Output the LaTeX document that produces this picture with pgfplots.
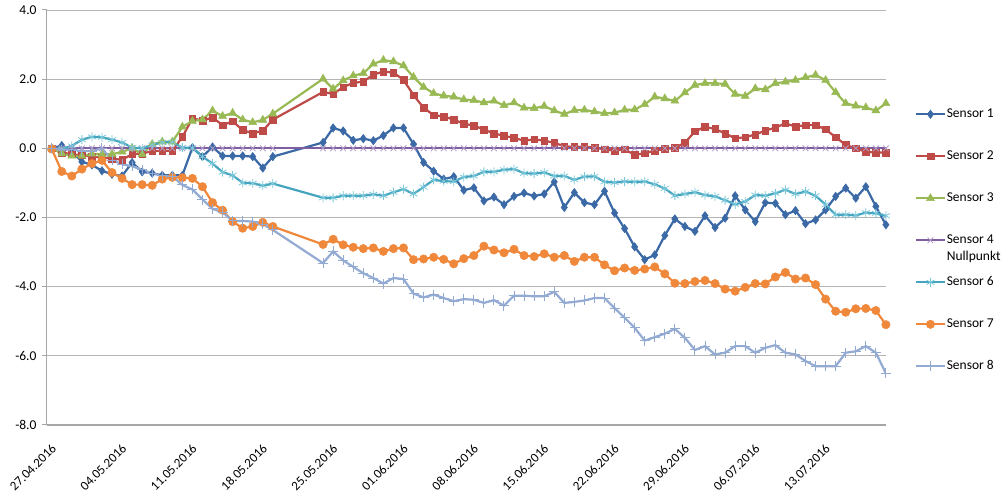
\documentclass[border=0pt]{standalone}
\usepackage{pgfplots}
\pgfplotsset{compat=1.18}
\usepackage{pgfplotstable}
\usepackage{fontspec}
\setmainfont{Carlito}
\definecolor{cSa}{HTML}{3B69A6}
\definecolor{cSb}{HTML}{BE4B48}
\definecolor{cSc}{HTML}{98B954}
\definecolor{cSd}{HTML}{7E5EA0}
\definecolor{cSdm}{HTML}{B09CC8}
\definecolor{cSf}{HTML}{45A5BE}
\definecolor{cSfm}{HTML}{7BC8DA}
\definecolor{cSg}{HTML}{F0883C}
\definecolor{cSh}{HTML}{93ABD3}
\definecolor{axisgray}{HTML}{A6A6A6}
\definecolor{gridgray}{HTML}{B4B4B4}

\pgfplotstableread{
i s1 s2 s3 s4 s6 s7 s8
0 0 0 0 0 0 -0.02 0
1 0.08 -0.12 -0.15 0 -0.02 -0.67 -0.04
2 -0.10 -0.17 -0.22 0 0.07 -0.80 -0.04
3 -0.39 -0.20 -0.22 0 0.25 -0.60 -0.08
4 -0.48 -0.24 -0.16 0 0.33 -0.44 -0.08
5 -0.65 -0.26 -0.17 0 0.32 -0.35 0.00
6 -0.75 -0.30 -0.17 0 0.25 -0.70 -0.34
7 -0.80 -0.33 -0.10 0 0.17 -0.87 -0.46
8 -0.41 -0.17 0.00 0 0.02 -1.05 -0.52
9 -0.68 -0.15 -0.17 0 0.00 -1.05 -0.62
10 -0.72 -0.08 0.12 0 0.10 -1.07 -0.72
11 -0.78 -0.07 0.19 0 0.17 -0.89 -0.80
12 -0.78 -0.07 0.19 0 0.18 -0.84 -0.81
13 -0.78 0.33 0.62 0 0.02 -0.85 -1.06
14 0.02 0.87 0.79 0 0.01 -0.87 -1.19
15 -0.24 0.80 0.83 0 -0.24 -1.11 -1.48
16 0.04 0.89 1.09 0 -0.44 -1.57 -1.75
17 -0.22 0.67 0.93 0 -0.69 -1.79 -1.85
18 -0.22 0.78 1.02 0 -0.78 -2.12 -2.10
19 -0.22 0.53 0.83 0 -1.00 -2.31 -2.10
20 -0.24 0.43 0.75 0 -1.01 -2.26 -2.12
21 -0.57 0.51 0.82 0 -1.08 -2.14 -2.19
22 -0.24 0.83 1.00 0 -1.02 -2.26 -2.36
27 0.17 1.63 2.01 0 -1.43 -2.78 -3.32
28 0.59 1.57 1.72 0 -1.43 -2.63 -2.98
29 0.50 1.77 1.96 0 -1.37 -2.79 -3.24
30 0.23 1.89 2.10 0 -1.37 -2.86 -3.43
31 0.28 1.93 2.17 0 -1.37 -2.90 -3.61
32 0.22 2.13 2.44 0 -1.33 -2.88 -3.75
33 0.37 2.22 2.55 0 -1.37 -2.98 -3.91
34 0.59 2.19 2.51 0 -1.27 -2.90 -3.75
35 0.59 1.98 2.39 0 -1.18 -2.88 -3.78
36 0.12 1.54 2.06 0 -1.32 -3.22 -4.20
37 -0.41 1.17 1.77 0 -1.12 -3.20 -4.31
38 -0.66 0.96 1.59 0 -0.91 -3.15 -4.23
39 -0.89 0.92 1.52 0 -0.95 -3.21 -4.33
40 -0.82 0.83 1.49 0 -0.96 -3.34 -4.42
41 -1.21 0.71 1.41 0 -0.83 -3.19 -4.36
42 -1.14 0.66 1.39 0 -0.80 -3.10 -4.38
43 -1.52 0.54 1.32 0 -0.68 -2.83 -4.47
44 -1.41 0.43 1.37 0 -0.68 -2.94 -4.39
45 -1.63 0.36 1.24 0 -0.62 -3.02 -4.55
46 -1.39 0.30 1.32 0 -0.60 -2.92 -4.26
47 -1.29 0.22 1.17 0 -0.72 -3.10 -4.26
48 -1.38 0.26 1.16 0 -0.73 -3.13 -4.28
49 -1.32 0.22 1.22 0 -0.70 -3.05 -4.28
50 -0.97 0.16 1.09 0 -0.80 -3.15 -4.15
51 -1.71 0.06 0.99 0 -0.80 -3.10 -4.47
52 -1.28 0.04 1.10 0 -0.91 -3.27 -4.44
53 -1.57 0.05 1.11 0 -0.82 -3.15 -4.40
54 -1.63 0.02 1.06 0 -0.81 -3.15 -4.33
55 -1.24 -0.03 1.01 0 -0.97 -3.37 -4.33
56 -1.87 -0.07 1.03 0 -0.99 -3.54 -4.62
57 -2.32 -0.03 1.11 0 -0.96 -3.46 -4.90
58 -2.85 -0.19 1.12 0 -0.97 -3.53 -5.19
59 -3.22 -0.14 1.27 0 -0.96 -3.49 -5.56
60 -3.08 -0.07 1.49 0 -1.04 -3.43 -5.46
61 -2.52 -0.02 1.44 0 -1.16 -3.63 -5.36
62 -2.04 0.01 1.37 0 -1.37 -3.90 -5.22
63 -2.26 0.16 1.61 0 -1.32 -3.91 -5.48
64 -2.40 0.49 1.83 0 -1.27 -3.85 -5.83
65 -1.95 0.62 1.88 0 -1.35 -3.82 -5.72
66 -2.29 0.56 1.88 0 -1.39 -3.91 -5.96
67 -2.02 0.43 1.86 0 -1.50 -4.07 -5.91
68 -1.37 0.29 1.57 0 -1.62 -4.13 -5.72
69 -1.78 0.32 1.51 0 -1.54 -4.02 -5.72
70 -2.12 0.40 1.73 0 -1.35 -3.91 -5.91
71 -1.57 0.51 1.70 0 -1.37 -3.92 -5.77
72 -1.59 0.60 1.88 0 -1.30 -3.72 -5.69
73 -1.92 0.72 1.92 0 -1.20 -3.59 -5.91
74 -1.80 0.63 1.97 0 -1.32 -3.78 -5.96
75 -2.18 0.67 2.05 0 -1.25 -3.75 -6.15
76 -2.07 0.67 2.12 0 -1.37 -3.94 -6.30
77 -1.78 0.55 1.97 0 -1.63 -4.36 -6.30
78 -1.39 0.32 1.62 0 -1.92 -4.71 -6.30
79 -1.15 0.10 1.30 0 -1.92 -4.74 -5.91
80 -1.44 0.00 1.23 0 -1.94 -4.64 -5.87
81 -1.11 -0.10 1.18 0 -1.86 -4.63 -5.72
82 -1.68 -0.12 1.09 0 -1.88 -4.69 -5.91
83 -2.21 -0.12 1.30 0 -1.95 -5.10 -6.51
}\sensordata

\begin{document}
\begin{tikzpicture}[x=1pt,y=1pt]
\useasboundingbox (0,0) rectangle (1007,500);
\begin{axis}[
  at={(46.7pt,75pt)}, anchor=south west,
  scale only axis, width=839.2pt, height=415pt,
  xmin=0, xmax=83.5, ymin=-8, ymax=4,
  axis lines=left,
  axis line style={-, draw=axisgray, line width=1.2pt},
  ymajorgrids, grid style={draw=gridgray, line width=0.9pt},
  ytick={-8,-6,-4,-2,0,2,4},
  yticklabels={-8.0,-6.0,-4.0,-2.0,0.0,2.0,4.0},
  yticklabel style={font=\fontsize{13.5}{14}\selectfont, inner sep=0pt, xshift=-5pt},
  ytick style={draw=axisgray, line width=1pt},
  tick align=outside, major tick length=5pt,
  xtick={0,7,14,21,28,35,42,49,56,63,70,77},
  xticklabels={27.04.2016,04.05.2016,11.05.2016,18.05.2016,25.05.2016,01.06.2016,08.06.2016,15.06.2016,22.06.2016,29.06.2016,06.07.2016,13.07.2016},
  xtick style={draw=none},
  xticklabel style={xshift=4pt, yshift=-13pt, rotate=45, anchor=north east, font=\fontsize{13}{13}\selectfont, inner sep=0pt},
  legend style={at={(1.031,0.772)}, anchor=north west, draw=none, fill=none,
    font=\fontsize{13.5}{14}\selectfont, row sep=27pt,
    nodes={inner sep=1pt, text height=10pt, text depth=3pt}},
  legend cell align=left,
  legend image code/.code={\draw[mark repeat=2,mark phase=2] plot coordinates {(0cm,0cm) (0.5cm,0cm) (1.0cm,0cm)};},
  every axis plot/.append style={line width=2.2pt},
]
\addplot[color=cSa, mark=diamond*, mark size=4.2pt, mark options={solid, line width=0.5pt}] table[x expr=\thisrow{i}+0.5, y=s1] {\sensordata};
\addlegendentry{Sensor 1}
\addplot[color=cSb, mark=square*, mark size=3.3pt, mark options={solid, line width=0.5pt}] table[x expr=\thisrow{i}+0.5, y=s2] {\sensordata};
\addlegendentry{Sensor 2}
\addplot[color=cSc, mark=triangle*, mark size=4.6pt, mark options={solid, line width=0.5pt}] table[x expr=\thisrow{i}+0.5, y=s3] {\sensordata};
\addlegendentry{Sensor 3}
\addplot[color=cSd, line width=1.8pt, mark=x, mark size=4pt, mark options={solid, draw=cSdm, line width=0.8pt}] table[x expr=\thisrow{i}+0.5, y=s4] {\sensordata};
\addlegendentry{\makebox[0pt][l]{\raisebox{-17pt}[0pt][0pt]{Nullpunkt}}Sensor 4}
\addplot[color=cSf, mark=asterisk, mark size=4.5pt, mark options={solid, draw=cSfm, line width=0.8pt}] table[x expr=\thisrow{i}+0.5, y=s6] {\sensordata};
\addlegendentry{Sensor 6}
\addplot[color=cSg, mark=*, mark size=4.2pt, mark options={solid, line width=0.5pt}] table[x expr=\thisrow{i}+0.5, y=s7] {\sensordata};
\addlegendentry{Sensor 7}
\addplot[color=cSh, mark=+, mark size=5pt, mark options={solid, line width=1pt}] table[x expr=\thisrow{i}+0.5, y=s8] {\sensordata};
\addlegendentry{Sensor 8}
\end{axis}
\end{tikzpicture}
\end{document}
